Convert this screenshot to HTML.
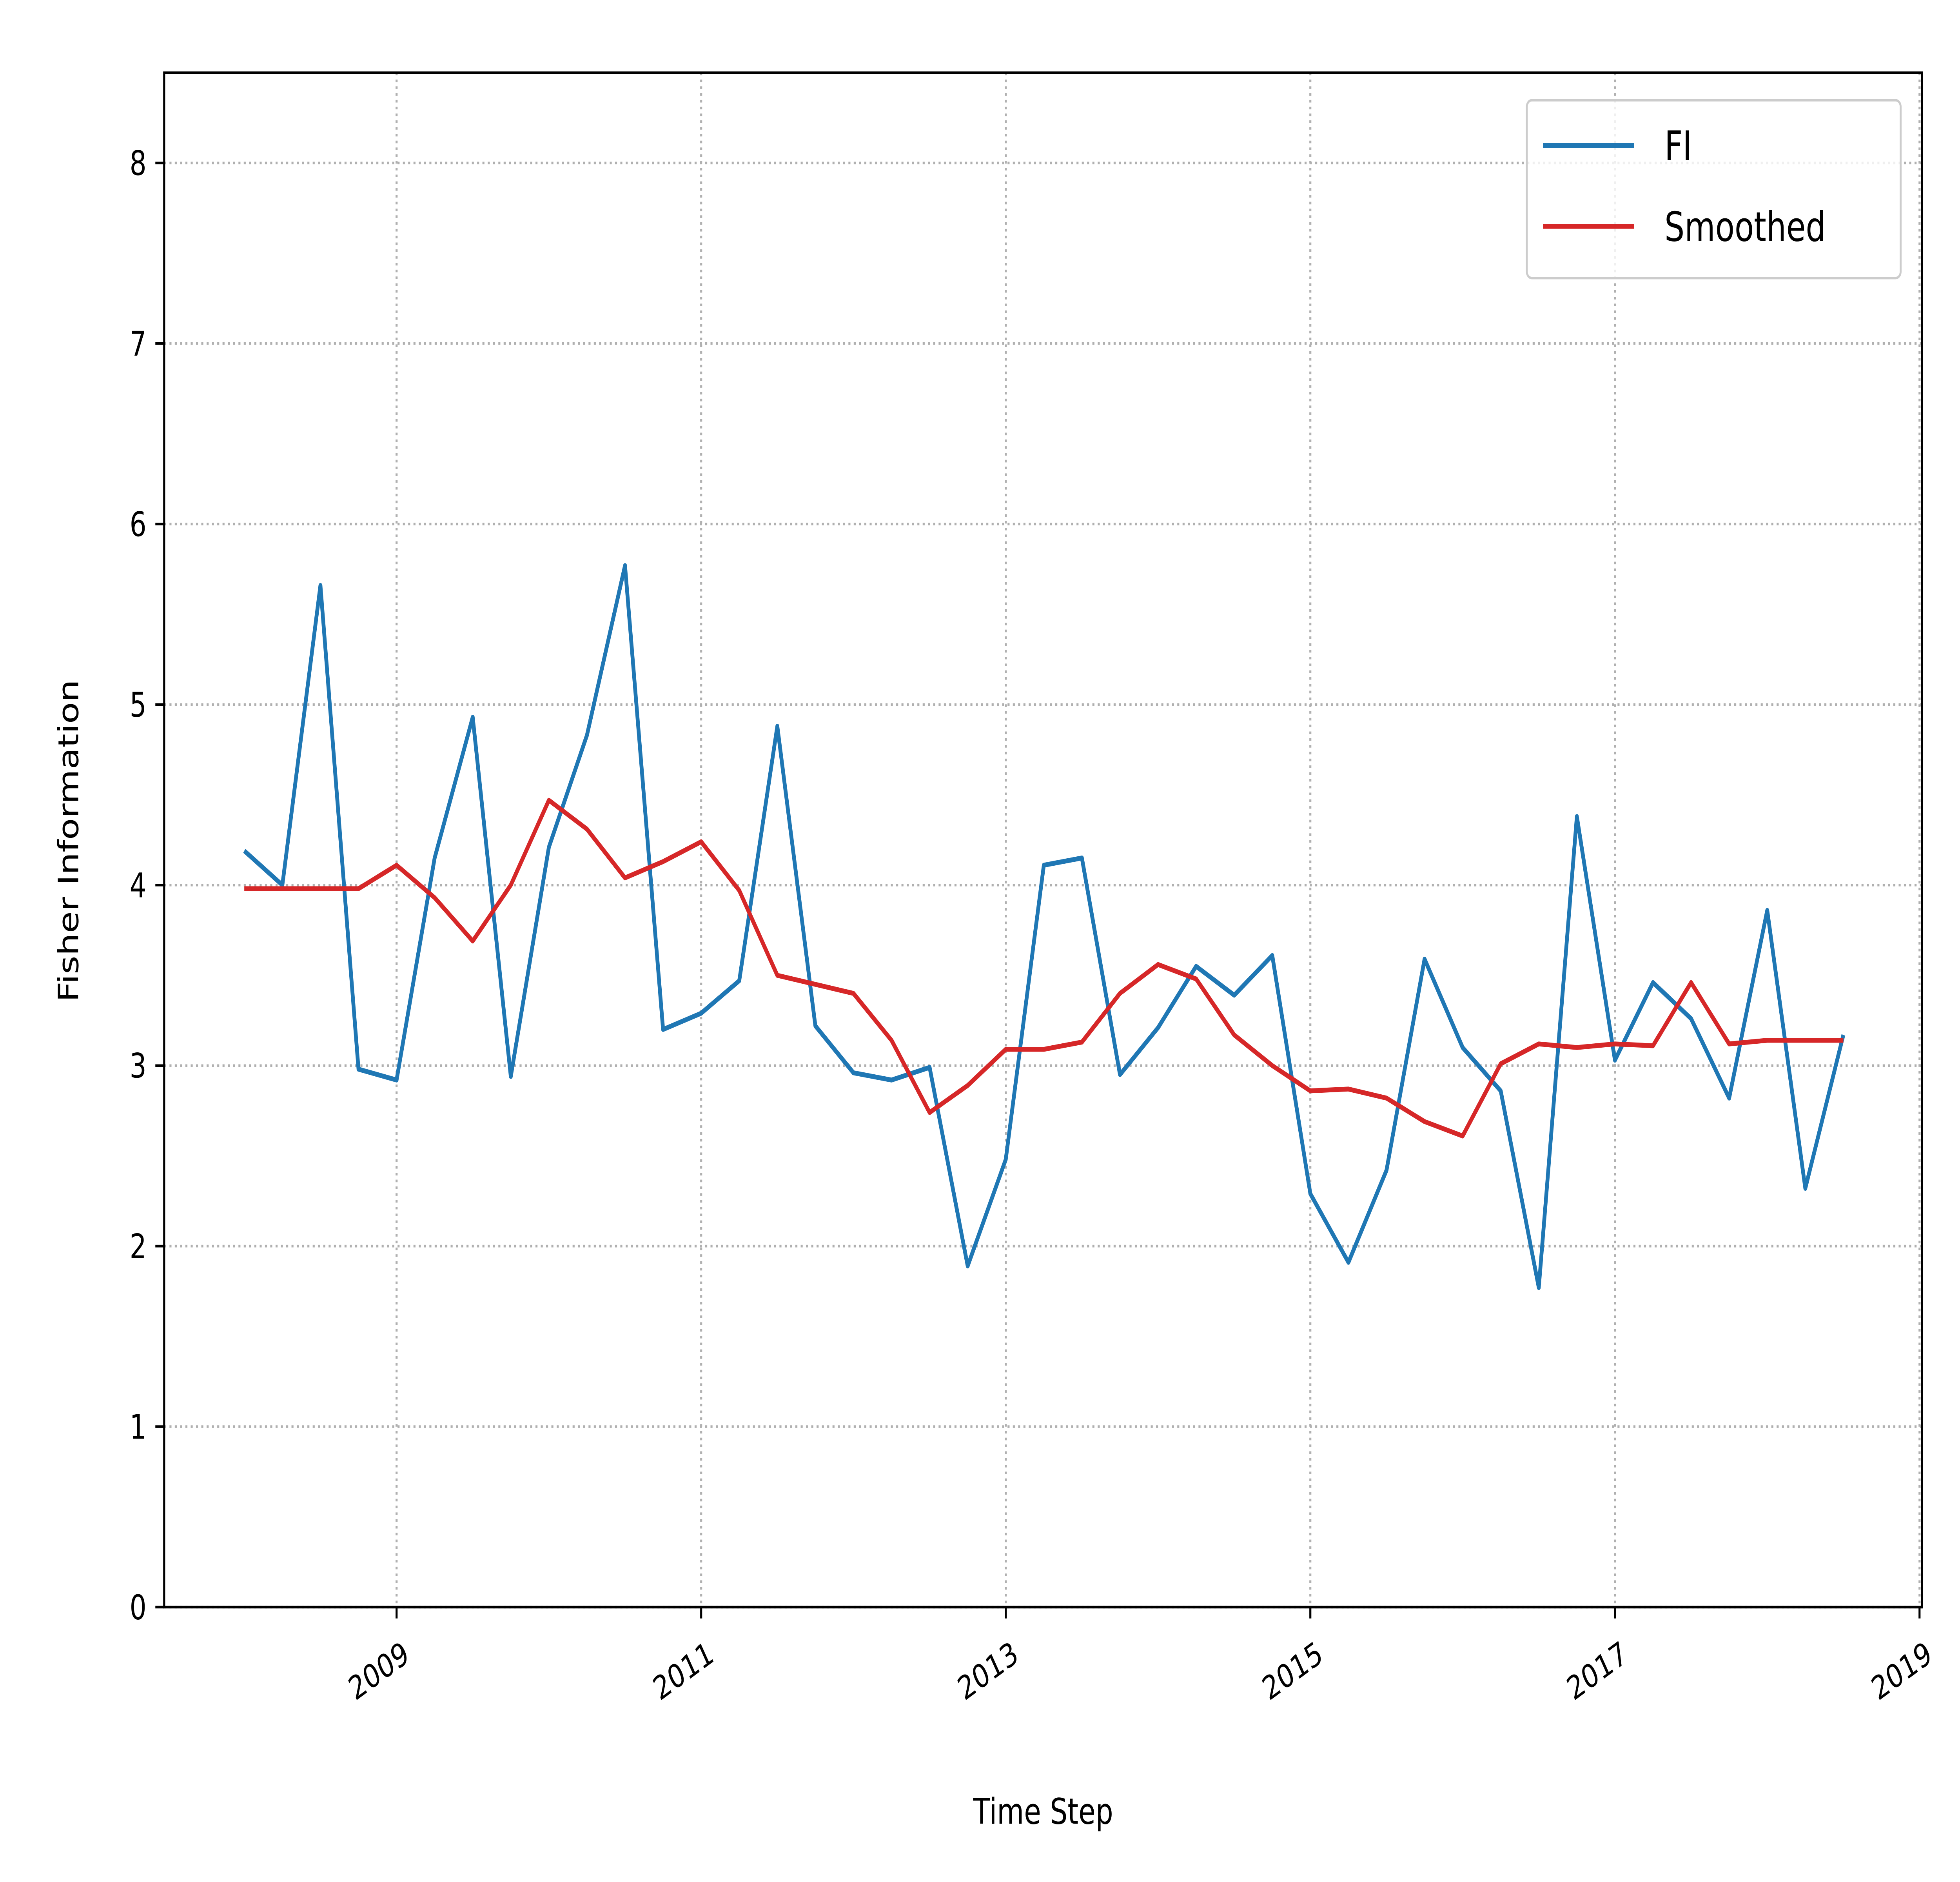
<!DOCTYPE html>
<html><head><meta charset="utf-8"><style>
html,body{margin:0;padding:0;background:#fff;overflow:hidden;width:100%;height:100%;}
svg{display:block;position:absolute;left:0;top:0;width:100vw;height:100vh;}
text{font-family:"DejaVu Sans","Liberation Sans",sans-serif;fill:#000;}
</style></head><body>
<svg id="chart" viewBox="0 0 1552 1164" preserveAspectRatio="none" xmlns="http://www.w3.org/2000/svg">
<rect x="0" y="0" width="1552" height="1164" fill="#fff"/>
<g id="grid"></g>
<g id="series"></g>
<rect x="130" y="45" width="1392" height="949" fill="none" stroke="#000" stroke-width="1.6"/>
<g id="axes"></g>
<text x="826" y="1128" font-size="22" text-anchor="middle">Time Step</text>
<text transform="translate(62,520) rotate(-90)" font-size="22" text-anchor="middle">Fisher Information</text>
<g>
<rect x="1209" y="62" width="296" height="110" rx="4" fill="#fff" fill-opacity="0.8" stroke="#ccc" stroke-width="1.5"/>
<line x1="1222" y1="90" x2="1294" y2="90" stroke="#1f77b4" stroke-width="3"/>
<text x="1318" y="99" font-size="25">FI</text>
<line x1="1222" y1="140" x2="1294" y2="140" stroke="#d62728" stroke-width="3"/>
<text x="1318" y="149" font-size="25">Smoothed</text>
</g>
</svg>
<script>
const fiValues=[4.19,4.0,5.66,2.98,2.92,4.15,4.93,2.94,4.21,4.83,5.77,3.20,3.29,3.47,4.88,3.22,2.96,2.92,2.99,1.89,2.48,4.11,4.15,2.95,3.21,3.55,3.39,3.61,2.29,1.91,2.42,3.59,3.10,2.86,1.77,4.38,3.03,3.46,3.26,2.82,3.86,2.32,3.17];
const smoothedValues=[3.98,3.98,3.98,3.98,4.11,3.93,3.69,4.0,4.47,4.31,4.04,4.13,4.24,3.97,3.50,3.45,3.40,3.14,2.74,2.89,3.09,3.09,3.13,3.40,3.56,3.48,3.17,3.00,2.86,2.87,2.82,2.69,2.61,3.01,3.12,3.10,3.12,3.11,3.46,3.12,3.14,3.14,3.14];
const startYear=2008.0;
const stepYears=0.25;
const xTickYears=[2009,2011,2013,2015,2017,2019];
const yTickValues=[0,1,2,3,4,5,6,7,8];

const NS="http://www.w3.org/2000/svg";
const L=130,R=1522,T=45,B=994;
const xMin=2007.474,xMax=2019.017,yMin=0,yMax=8.5;
function xs(v){return L+(v-xMin)/(xMax-xMin)*(R-L);}
function ys(v){return B-(v-yMin)/(yMax-yMin)*(B-T);}
function mk(tag,attrs,parent){const e=document.createElementNS(NS,tag);for(const k in attrs)e.setAttribute(k,attrs[k]);parent.appendChild(e);return e;}
const grid=document.getElementById('grid'),axes=document.getElementById('axes'),series=document.getElementById('series');

xTickYears.forEach(y=>{
  const x=xs(y);
  const g=mk('line',{x1:x,y1:T,x2:x,y2:B,stroke:'#b0b0b0','stroke-width':1.6,'stroke-dasharray':'1.6,2.6'},grid);
  
  
  const t=mk('line',{x1:x,y1:B,x2:x,y2:B+7,stroke:'#000','stroke-width':1.6},axes);
  
  
  const lb=mk('text',{x:x+4,y:B+20,'font-size':20,'text-anchor':'end',transform:`rotate(-30 ${x+4} ${B+20})`,'dominant-baseline':'hanging'},axes);
  lb.textContent=String(y);
  
  
});
yTickValues.forEach(v=>{
  const y=ys(v);
  const g=mk('line',{x1:L,y1:y,x2:R,y2:y,stroke:'#b0b0b0','stroke-width':1.6,'stroke-dasharray':'1.6,2.6'},grid);
  
  
  const t=mk('line',{x1:L-7,y1:y,x2:L,y2:y,stroke:'#000','stroke-width':1.6},axes);
  
  
  const lb=mk('text',{x:L-14,y:y+7.5,'font-size':21,'text-anchor':'end'},axes);
  lb.textContent=String(v);
  
  
});
function pts(arr){return arr.map((v,i)=>xs(startYear+i*stepYears).toFixed(2)+','+ys(v).toFixed(2)).join(' ');}
const fi=mk('polyline',{points:pts(fiValues),fill:'none',stroke:'#1f77b4','stroke-width':3,'stroke-linejoin':'round'},series);


const sm=mk('polyline',{points:pts(smoothedValues),fill:'none',stroke:'#d62728','stroke-width':3,'stroke-linejoin':'round'},series);


</script>
</body></html>
